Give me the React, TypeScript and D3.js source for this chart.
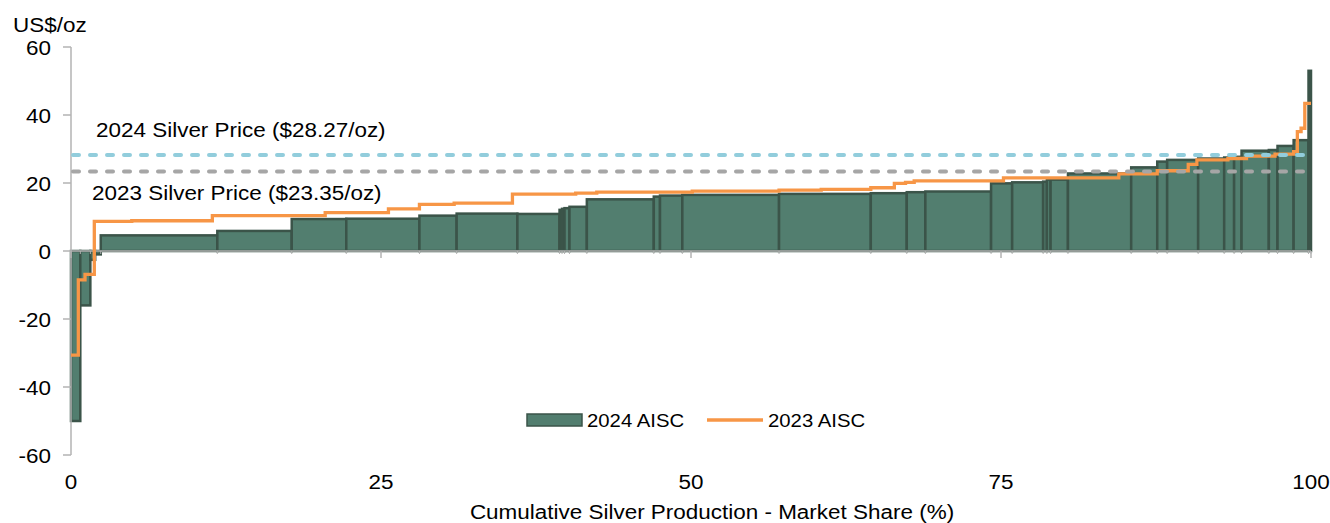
import React from "react";
import * as d3 from "d3";

// 2024 AISC: cumulative market share (right edge of each bar, %) and cost (US$/oz)
const share2024 = [0.75, 1.56, 1.95, 2.4, 11.8, 17.8, 22.2, 28.1, 31.1, 36.0, 39.4, 39.6, 39.8, 40.2, 41.6, 47.0, 47.5, 49.3, 57.1, 64.5, 67.4, 68.9, 74.2, 75.9, 78.4, 78.7, 79.0, 80.4, 85.5, 87.6, 88.4, 90.9, 93.0, 93.8, 94.4, 96.6, 97.3, 98.6, 99.8, 100];
const aisc2024 = [-50, -16, -2.6, -1.0, 4.6, 5.9, 9.4, 9.5, 10.4, 11.0, 10.9, 12.1, 12.4, 12.6, 13.0, 15.2, 16.0, 16.3, 16.5, 16.8, 17.0, 17.3, 17.5, 19.9, 20.2, 20.4, 21.0, 21.0, 22.8, 24.6, 26.3, 26.8, 27.2, 27.5, 27.7, 29.5, 29.7, 30.9, 32.6, 53.0];

// 2023 AISC step line: start of each step (%) and cost (US$/oz)
const share2023 = [0, 0.59, 1.13, 1.88, 4.9, 11.4, 20.5, 25.6, 28.1, 30.9, 35.6, 40.7, 42.4, 50.1, 57.1, 60.5, 64.5, 66.4, 67.3, 68.0, 75.2, 84.5, 87.6, 90.1, 90.8, 93.3, 94.8, 97.1, 98.6, 98.9, 99.2, 99.5];
const aisc2023 = [-30.6, -8.5, -6.9, 8.7, 8.9, 10.4, 11.3, 12.4, 13.7, 14.1, 16.7, 17.0, 17.3, 17.6, 17.9, 18.1, 18.6, 19.9, 20.2, 20.6, 21.5, 22.7, 23.6, 25.5, 26.8, 27.2, 27.9, 28.5, 29.2, 35.1, 36.1, 43.4];

const price2024 = 28.27;
const price2023 = 23.35;
const priceLabel2024 = "2024 Silver Price ($28.27/oz)";
const priceLabel2023 = "2023 Silver Price ($23.35/oz)";

const yTicks = [-60, -40, -20, 0, 20, 40, 60];
const xTicks = [0, 25, 50, 75, 100];
const seriesNames = ["2024 AISC", "2023 AISC"];
const yUnit = "US$/oz";
const xTitle = "Cumulative Silver Production - Market Share (%)";

const W = 1330;
const H = 523;
const FONT = "'Liberation Sans', Arial, sans-serif";
const SX = 1.07;

const BAR_FILL = "#527E6F";
const BAR_STROKE = "#3B5449";
const ORANGE = "#F79646";
const BLUE = "#92CDDC";
const GREY = "#A6A6A6";
const AXIS = "#B3B3B3";

function T({ x, y, size, anchor = "start", children }: any) {
  return (
    <text
      transform={`translate(${x},${y}) scale(${SX},1)`}
      fontFamily={FONT}
      fontSize={size}
      fill="#000"
      textAnchor={anchor}
    >
      {children}
    </text>
  );
}

export default function App() {
  const x = d3.scaleLinear().domain([0, 100]).range([71, 1311]);
  const y = d3.scaleLinear().domain([-60, 60]).range([455, 47]);

  const bars = aisc2024.map((v, i) => {
    const x0 = i === 0 ? 0 : share2024[i - 1];
    const x1 = share2024[i];
    return { x0, x1, v };
  });

  const pts: [number, number][] = share2023.map((s, i) => [s, aisc2023[i]]);
  pts.push([100, aisc2023[aisc2023.length - 1]]);
  const stepLine = d3
    .line<[number, number]>()
    .x((d) => x(d[0]))
    .y((d) => y(d[1]))
    .curve(d3.curveStepAfter)(pts) as string;

  return (
    <svg
      width={W}
      height={H}
      style={{ position: "absolute", left: 0, top: 0, background: "#fff" }}
    >
      {/* bars */}
      <g>
        {bars.map((b, i) => (
          <rect
            key={i}
            x={x(b.x0)}
            y={Math.min(y(b.v), y(0))}
            width={Math.max(0, x(b.x1) - x(b.x0))}
            height={Math.abs(y(b.v) - y(0))}
            fill={BAR_FILL}
            stroke={BAR_STROKE}
            strokeWidth={2.5}
          />
        ))}
      </g>

      {/* y axis */}
      <line x1={x(0)} x2={x(0)} y1={y(60)} y2={y(-60)} stroke={AXIS} strokeWidth={1.5} />
      {yTicks.map((t) => (
        <g key={t}>
          <line x1={x(0) - 8} x2={x(0)} y1={y(t)} y2={y(t)} stroke={AXIS} strokeWidth={1.5} />
          <T x={51} y={y(t) + 8} size={21} anchor="end">
            {t}
          </T>
        </g>
      ))}

      {/* x axis */}
      <line x1={x(0)} x2={x(100)} y1={y(0)} y2={y(0)} stroke={AXIS} strokeWidth={1.5} />
      {share2024.map((s, i) => (
        <line key={"m" + i} x1={x(s)} x2={x(s)} y1={y(0)} y2={y(0) + 3} stroke={AXIS} strokeWidth={1} />
      ))}
      {xTicks.map((t) => (
        <g key={t}>
          <line x1={x(t)} x2={x(t)} y1={y(0)} y2={y(0) + 7} stroke={AXIS} strokeWidth={1.5} />
          <T x={x(t)} y={489} size={21} anchor="middle">
            {t}
          </T>
        </g>
      ))}

      {/* 2023 AISC line */}
      <path d={stepLine} fill="none" stroke={ORANGE} strokeWidth={3.3} />

      {/* price lines */}
      <line
        x1={x(0)}
        x2={x(100) - 3}
        y1={y(price2024)}
        y2={y(price2024)}
        stroke={BLUE}
        strokeWidth={4}
        strokeDasharray="6,11"
        strokeLinecap="round"
        transform="translate(2,0)"
      />
      <line
        x1={x(0)}
        x2={x(100) - 3}
        y1={y(price2023)}
        y2={y(price2023)}
        stroke={GREY}
        strokeWidth={4}
        strokeDasharray="6,11"
        strokeLinecap="round"
        transform="translate(2,0)"
      />
      <T x={96} y={137} size={21}>
        {priceLabel2024}
      </T>
      <T x={92} y={200} size={21}>
        {priceLabel2023}
      </T>

      {/* axis labels */}
      <T x={13} y={32} size={21}>
        {yUnit}
      </T>
      <T x={712} y={519} size={21} anchor="middle">
        {xTitle}
      </T>

      {/* legend */}
      <rect x={527} y={414} width={55} height={12} fill={BAR_FILL} stroke={BAR_STROKE} strokeWidth={1.5} />
      <T x={587} y={427} size={19}>
        {seriesNames[0]}
      </T>
      <line x1={707} x2={763} y1={420} y2={420} stroke={ORANGE} strokeWidth={3.3} />
      <T x={768} y={427} size={19}>
        {seriesNames[1]}
      </T>
    </svg>
  );
}
